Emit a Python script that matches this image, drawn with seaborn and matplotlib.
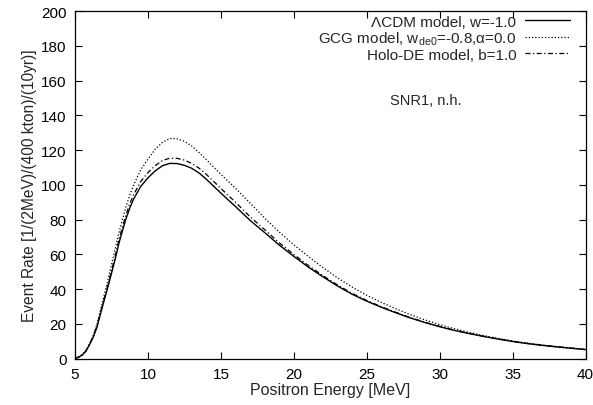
import numpy as np
import pandas as pd
import seaborn as sns
import matplotlib
matplotlib.use("Agg")
import matplotlib.pyplot as plt

energy = [5.0, 5.25, 5.5, 5.75, 6.0, 6.25, 6.5, 6.75, 7.0, 7.25, 7.5, 7.75, 8.0, 8.25, 8.5, 8.75, 9.0,
          9.5, 10.0, 10.5, 11.0, 11.5, 12.0, 12.5, 13.0, 13.5, 14.0, 14.5, 15.0, 15.5, 16.0,
          17, 18, 19, 20, 21, 22, 23, 24, 25, 26, 27, 28, 29, 30, 31, 32, 33, 34, 35, 36, 37, 38, 39, 40]

lcdm = [0, 0.8, 2.0, 4.3, 8.0, 12.3, 17.8, 25.8, 33.5, 41, 49, 57, 66, 73.5, 80.5, 86.5, 91.5,
        99, 104, 108, 111, 112.3, 112.2, 111.2, 109.5, 106.8, 103.2, 99.2, 95.2, 91.3, 87.5,
        79.5, 72.5, 65.3, 58.8, 52.6, 47, 41.7, 37, 33, 29.5, 26.3, 23.3, 20.7, 18.3, 16.2, 14.4,
        12.7, 11.2, 9.8, 8.6, 7.6, 6.7, 5.9, 5.1]

gcg = [0, 0.9, 2.3, 4.8, 8.5, 13.3, 19.5, 28, 36.5, 45, 54, 63, 72, 80, 87.5, 94, 99.5,
       108.5, 114.8, 120.5, 124.5, 126.6, 126.5, 125, 122.3, 118.6, 114.5, 110.2, 106, 102, 98,
       89.5, 80.8, 72.8, 65.5, 58.7, 52.3, 46.4, 41.1, 36.4, 32.3, 28.6, 25.2, 22.2, 19.5, 17.2, 15.1,
       13.2, 11.6, 10.1, 8.9, 7.8, 6.9, 6.1, 5.3]

holo = [0, 0.8, 2.1, 4.4, 8.3, 12.9, 18.6, 26.5, 34.5, 42.3, 50.5, 58.8, 68, 75.7, 82.8, 89, 94,
        101.8, 107, 111, 114, 115.3, 115.2, 114.2, 112.3, 109.6, 106, 102, 97.9, 93.9, 90,
        81.6, 74.2, 66.6, 59.9, 53.5, 47.7, 42.3, 37.5, 33.4, 29.8, 26.6, 23.5, 20.9, 18.5, 16.3, 14.5,
        12.8, 11.3, 9.9, 8.7, 7.7, 6.8, 6.0, 5.2]

labels = ["\u039bCDM model, w=-1.0",
          "GCG model, w$_{\\mathrm{de0}}$=-0.8,\u03b1=0.0",
          "Holo-DE model, b=1.0"]
xticks = [5, 10, 15, 20, 25, 30, 35, 40]
yticks = [0, 20, 40, 60, 80, 100, 120, 140, 160, 180, 200]

sns.set_theme(style="ticks")
plt.rcParams["font.family"] = ["Liberation Sans", "DejaVu Sans"]
plt.rcParams["mathtext.fontset"] = "custom"
plt.rcParams["mathtext.rm"] = "Liberation Sans"
plt.rcParams["mathtext.it"] = "Liberation Sans:italic"

fig = plt.figure(figsize=(5.93, 4.06), dpi=100)
ax = fig.add_axes([0.1265, 0.1145, 0.8609, 0.8559])

styles = ["-", (0, (1, 1.6)), (0, (4, 2, 1, 2))]
widths = [1.0, 0.9, 0.9]
for vals, lab, ls, lw in zip([lcdm, gcg, holo], labels, styles, widths):
    df = pd.DataFrame({"E": energy, "R": vals})
    sns.lineplot(data=df, x="E", y="R", ax=ax, color="black", linewidth=lw,
                 linestyle=ls, label=lab)

ax.set_xlim(5, 40)
ax.set_ylim(0, 200)
ax.set_xticks(xticks)
ax.set_yticks(yticks)
ax.tick_params(direction="in", length=5, width=0.8, top=True, right=True,
               labelsize=11, colors="black", pad=6)
for s in ax.spines.values():
    s.set_visible(True)
    s.set_color("black")
    s.set_linewidth(0.9)
ax.set_xlabel("Positron Energy [MeV]", fontsize=11.5, labelpad=1)
ax.set_ylabel("Event Rate [1/(2MeV)/(400 kton)/(10yr)]", fontsize=11.2, labelpad=3)
ax.text(26.6, 149, "SNR1, n.h.", fontsize=10.5, ha="left", va="center")

leg = ax.legend(loc="upper right", frameon=False, markerfirst=False, fontsize=11,
                handlelength=2.9, handletextpad=0.6, labelspacing=0.05,
                borderaxespad=0.3, bbox_to_anchor=(0.99, 1.02))

fig.savefig("out.png", dpi=100)
